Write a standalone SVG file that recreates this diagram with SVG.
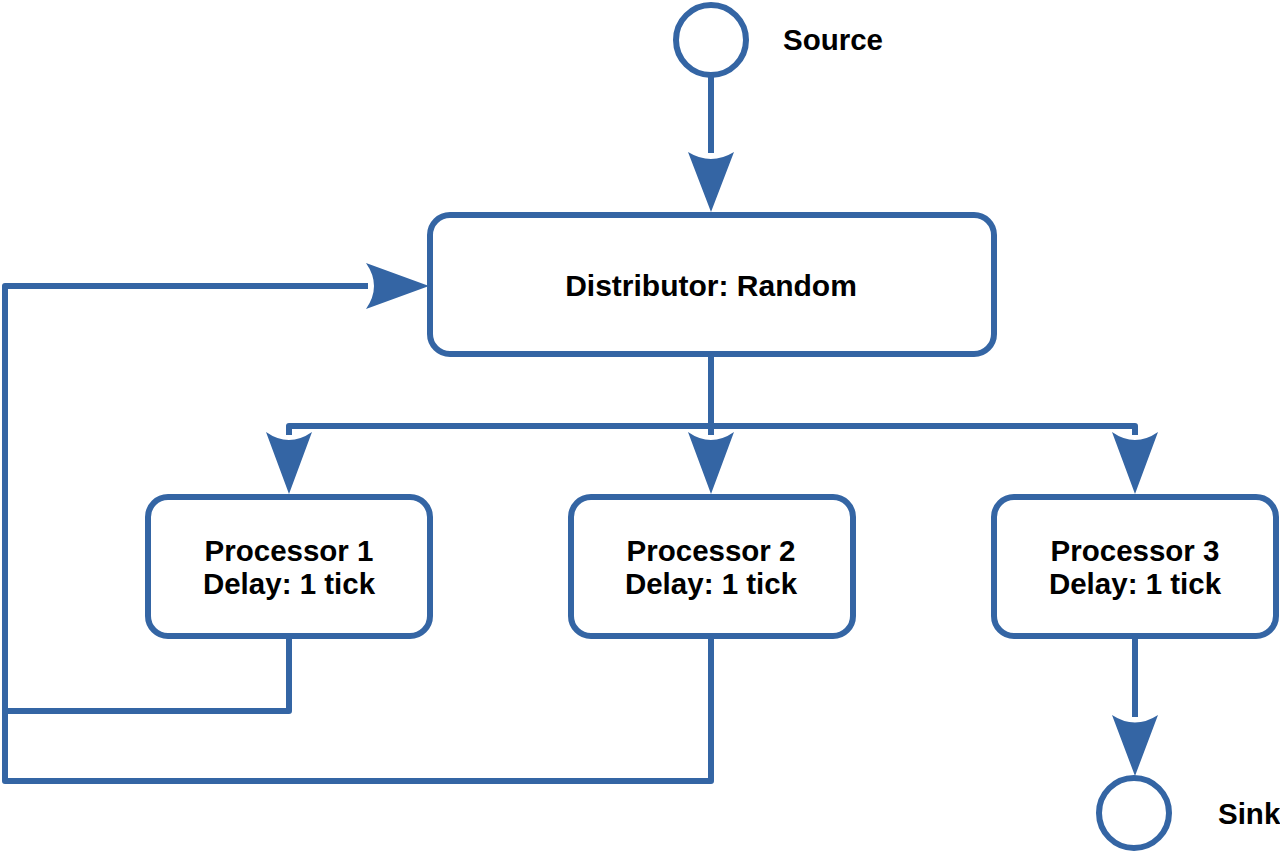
<svg xmlns="http://www.w3.org/2000/svg" width="1280" height="853" viewBox="0 0 1280 853">
<style>
.ln{fill:none;stroke:#3465a4;stroke-width:6;stroke-linejoin:round}
.box{fill:#fff;stroke:#3465a4;stroke-width:6}
.ah{fill:#3465a4}
text{font-family:"Liberation Sans",Arial,sans-serif;font-weight:bold;font-size:29.5px;fill:#000}
</style>
<rect width="1280" height="853" fill="#fff"/>
<g id="connectors">
<path class="ln" d="M711,76 V153"/>
<path class="ah" d="M711,212 L688,152 Q711,166 734,152 Z"/>
<path class="ln" d="M711,354 V426 M289,435 V426 H1135 V435 M711,426 V435"/>
<path class="ah" d="M289,494 L266,432 Q289,448 312,432 Z"/>
<path class="ah" d="M711,494 L688,432 Q711,448 734,432 Z"/>
<path class="ah" d="M1135,494 L1112,432 Q1135,448 1158,432 Z"/>
<path class="ln" d="M289,638 V711 H5 M711,638 V781 H5 V286 H368"/>
<path class="ah" d="M429,286 L366,263 Q382,286 366,309 Z"/>
<path class="ln" d="M1135,638 V717"/>
<path class="ah" d="M1135,776 L1112,715 Q1135,730 1158,715 Z"/>
</g>
<g id="source">
<circle class="box" cx="711" cy="40" r="35"/>
<text x="783" y="50">Source</text>
</g>
<g id="distributor">
<rect class="box" x="430" y="215" width="564" height="139" rx="20"/>
<text x="711" y="296" text-anchor="middle" style="font-size:30px">Distributor: Random</text>
</g>
<g id="processor1">
<rect class="box" x="148" y="497" width="282" height="139" rx="20"/>
<text x="289" y="561" text-anchor="middle">Processor 1</text>
<text x="289" y="594" text-anchor="middle">Delay: 1 tick</text>
</g>
<g id="processor2">
<rect class="box" x="571" y="497" width="282" height="139" rx="20"/>
<text x="711" y="561" text-anchor="middle">Processor 2</text>
<text x="711" y="594" text-anchor="middle">Delay: 1 tick</text>
</g>
<g id="processor3">
<rect class="box" x="994" y="497" width="282" height="139" rx="20"/>
<text x="1135" y="561" text-anchor="middle">Processor 3</text>
<text x="1135" y="594" text-anchor="middle">Delay: 1 tick</text>
</g>
<g id="sink">
<circle class="box" cx="1134" cy="813" r="35"/>
<text x="1218" y="824">Sink</text>
</g>
</svg>
